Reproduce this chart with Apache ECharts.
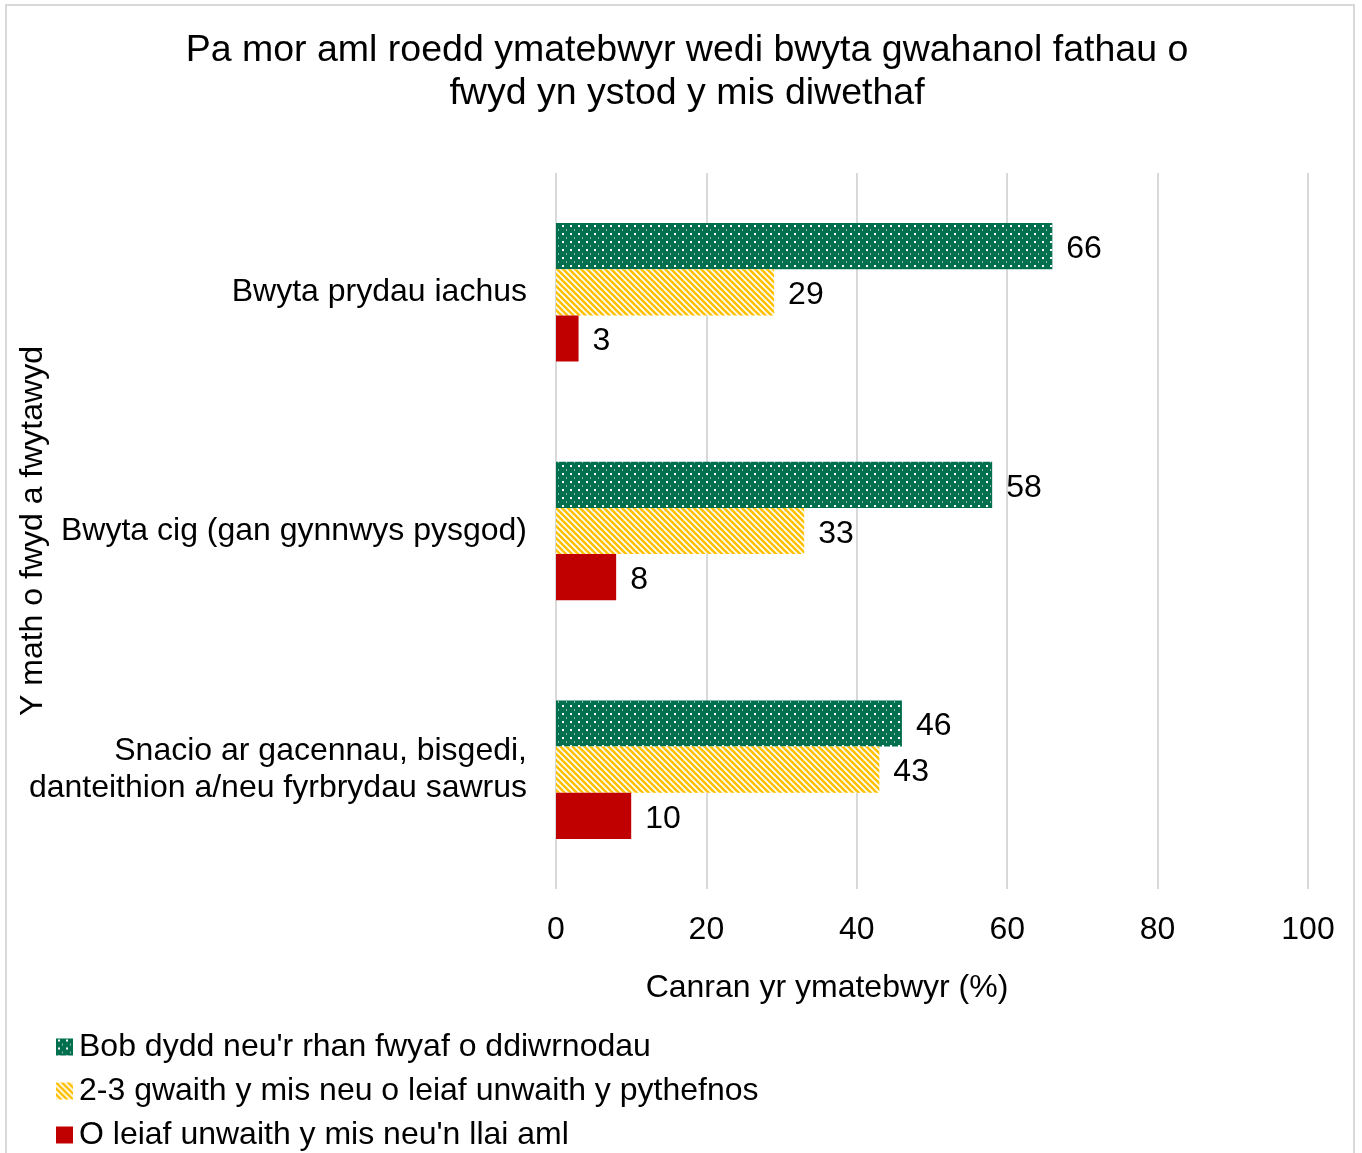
<!DOCTYPE html>
<html><head><meta charset="utf-8">
<script src="https://cdn.jsdelivr.net/npm/echarts@6/dist/echarts.min.js"></script>
<style>html,body{margin:0;padding:0;background:#fff}#c{width:1362px;height:1153px}</style>
</head><body><div id="c"></div>
<script>
var categories = ["Bwyta prydau iachus", "Bwyta cig (gan gynnwys pysgod)", "Snacio ar gacennau, bisgedi,\ndanteithion a/neu fyrbrydau sawrus"];
var seriesNames = ["Bob dydd neu'r rhan fwyaf o ddiwrnodau", "2-3 gwaith y mis neu o leiaf unwaith y pythefnos", "O leiaf unwaith y mis neu'n llai aml"];
var dailyValues = [66, 58, 46];
var fortnightValues = [29, 33, 43];
var monthlyValues = [3, 8, 10];
var xTicks = [0, 20, 40, 60, 80, 100];

function dotPattern() {
  var c = document.createElement('canvas'); c.width = 8; c.height = 8;
  var g = c.getContext('2d');
  g.fillStyle = '#006F4E'; g.fillRect(0, 0, 8, 8);
  g.fillStyle = '#ffffff'; g.fillRect(2, 1, 2, 2);
  g.fillStyle = 'rgba(255,255,255,0.55)'; g.fillRect(6, 5, 1, 2);
  return c;
}
function stripePattern() {
  var c = document.createElement('canvas'); c.width = 6; c.height = 6;
  var g = c.getContext('2d');
  g.fillStyle = '#ffffff'; g.fillRect(0, 0, 6, 6);
  g.strokeStyle = '#FFC000'; g.lineWidth = 2.6;
  for (var k = -2; k <= 2; k++) {
    g.beginPath(); g.moveTo(k * 6 - 1, -1); g.lineTo(k * 6 + 7, 7); g.stroke();
  }
  return c;
}
var greenFill = { image: dotPattern(), repeat: 'repeat' };
var yellowFill = { image: stripePattern(), repeat: 'repeat' };
var redFill = '#C00000';

var font = 'Liberation Sans, Arial, sans-serif';
var fs = 32;
var chart = echarts.init(document.getElementById('c'), null, { renderer: 'canvas' });
var labelCfg = { show: true, position: 'right', distance: 14, offset: [0, 3], color: '#000', fontSize: fs, fontFamily: font };
var legendTops = [1026, 1070, 1114];
chart.setOption({
  animation: false,
  backgroundColor: '#fff',
  textStyle: { fontFamily: font },
  title: [{
    text: 'Pa mor aml roedd ymatebwyr wedi bwyta gwahanol fathau o\nfwyd yn ystod y mis diwethaf',
    left: 682, top: 24, textAlign: 'center',
    textStyle: { fontSize: 37.5, fontWeight: 'normal', color: '#000', lineHeight: 43, fontFamily: font }
  }, {
    text: 'Canran yr ymatebwyr (%)',
    left: 822, top: 967, textAlign: 'center',
    textStyle: { fontSize: fs, fontWeight: 'normal', color: '#000', fontFamily: font }
  }],
  graphic: [{
    type: 'rect', shape: { x: 6, y: 5, width: 1348, height: 1160 },
    style: { fill: 'none', stroke: '#D9D9D9', lineWidth: 2 }, silent: true, z: -10
  }],
  legend: seriesNames.map(function (n, i) {
    return {
      orient: 'vertical', left: 51, top: legendTops[i], itemWidth: 17, itemHeight: 17,
      icon: 'rect',
      textStyle: { fontSize: fs, color: '#000', fontFamily: font, padding: [0, 0, 0, 1] },
      data: [n]
    };
  }),
  grid: { left: 556, right: 54, top: 173, bottom: 264, containLabel: false, outerBoundsMode: 'none' },
  xAxis: {
    type: 'value', min: xTicks[0], max: xTicks[xTicks.length - 1], interval: 20,
    axisLine: { show: false }, axisTick: { show: false },
    splitLine: { show: true, lineStyle: { color: '#D9D9D9', width: 2 } },
    axisLabel: { fontSize: fs, color: '#000', margin: 25, fontFamily: font }
  },
  yAxis: {
    type: 'category', data: categories, inverse: true,
    axisLine: { show: false }, axisTick: { show: false },
    axisLabel: { fontSize: fs, color: '#000', margin: 29, lineHeight: 37, align: 'right', fontFamily: font, padding: [4, 0, 0, 0] },
    name: 'Y math o fwyd a fwytawyd', nameLocation: 'middle', nameGap: 507, nameRotate: 90,
    nameMoveOverlap: false,
    nameTextStyle: { fontSize: fs, color: '#000', fontFamily: font }
  },
  series: [
    { name: seriesNames[0], type: 'bar', data: dailyValues, barGap: '0%', barCategoryGap: '42%', itemStyle: { color: greenFill }, label: labelCfg },
    { name: seriesNames[1], type: 'bar', data: fortnightValues, barGap: '0%', barCategoryGap: '42%', itemStyle: { color: yellowFill }, label: labelCfg },
    { name: seriesNames[2], type: 'bar', data: monthlyValues, barGap: '0%', barCategoryGap: '42%', itemStyle: { color: redFill }, label: labelCfg }
  ]
});
</script></body></html>
